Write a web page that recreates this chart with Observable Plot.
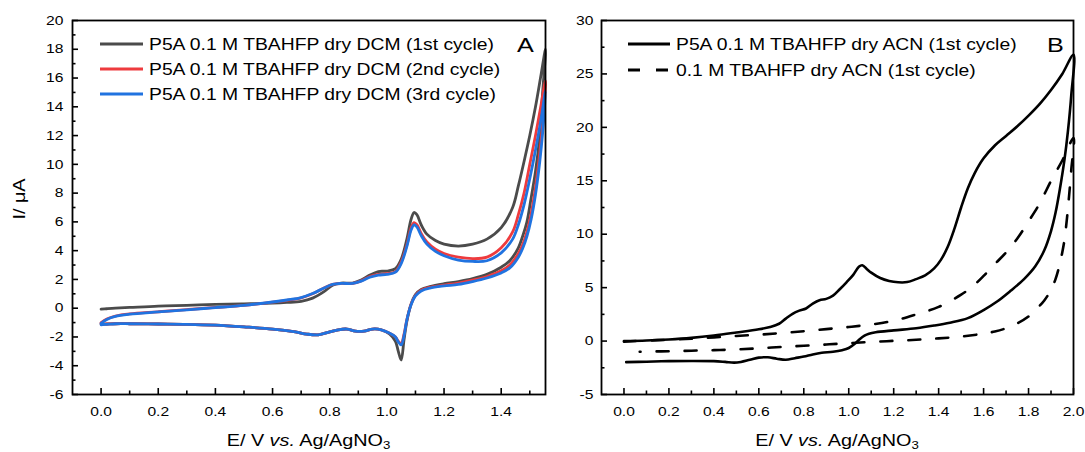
<!DOCTYPE html>
<html>
<head>
<meta charset="utf-8">
<script src="https://cdn.jsdelivr.net/npm/d3@7"></script>
<script src="https://cdn.jsdelivr.net/npm/@observablehq/plot@0.6"></script>
<style>
  html, body { margin: 0; padding: 0; background: #fff; }
  #wrap { position: relative; width: 1085px; height: 452px; overflow: hidden; background: #fff;
          font-family: "Liberation Sans", Arial, sans-serif; }
  #wrap svg { position: absolute; top: 0; }
</style>
</head>
<body>
<div id="wrap"></div>
<script>
// ---------------- Panel A data (DCM, three cycles) ----------------
const seriesA = ["P5A 0.1 M TBAHFP dry DCM (1st cycle)", "P5A 0.1 M TBAHFP dry DCM (2nd cycle)", "P5A 0.1 M TBAHFP dry DCM (3rd cycle)"];
const colorsA = ["#4b4b4b", "#ee3b3e", "#2073e0"];

const EA_fwd = [0.0, 0.02, 0.05, 0.1, 0.2, 0.3, 0.4, 0.5, 0.6, 0.65, 0.7, 0.74, 0.78, 0.81, 0.84, 0.88, 0.91, 0.94, 0.97, 1.0, 1.03, 1.05, 1.07, 1.085, 1.095, 1.105, 1.12, 1.14, 1.17, 1.2, 1.25, 1.3, 1.35, 1.4, 1.44, 1.46, 1.48, 1.5, 1.52, 1.54, 1.555];
const IA1_fwd = [-0.07, -0.04, 0.0, 0.05, 0.15, 0.2, 0.26, 0.3, 0.35, 0.4, 0.48, 0.7, 1.15, 1.6, 1.75, 1.75, 1.95, 2.3, 2.55, 2.58, 2.75, 3.4, 4.8, 6.2, 6.65, 6.5, 5.8, 5.15, 4.7, 4.45, 4.32, 4.45, 4.8, 5.6, 7.0, 8.5, 10.2, 12.0, 14.0, 16.3, 18.0];
const IA2_fwd = [-1.0, -0.75, -0.55, -0.4, -0.25, -0.1, 0.05, 0.2, 0.42, 0.55, 0.72, 1.0, 1.4, 1.65, 1.72, 1.72, 1.9, 2.2, 2.35, 2.4, 2.55, 3.2, 4.4, 5.6, 5.95, 5.8, 5.2, 4.6, 4.1, 3.8, 3.55, 3.45, 3.55, 4.2, 5.3, 6.5, 8.0, 10.0, 12.0, 14.2, 15.8];
const IA3_fwd = [-1.05, -0.78, -0.57, -0.42, -0.26, -0.11, 0.04, 0.2, 0.43, 0.57, 0.74, 1.02, 1.4, 1.65, 1.72, 1.72, 1.88, 2.15, 2.3, 2.35, 2.5, 3.1, 4.3, 5.45, 5.8, 5.65, 5.05, 4.45, 3.95, 3.65, 3.35, 3.25, 3.3, 3.85, 4.8, 5.8, 7.2, 9.0, 11.0, 13.2, 15.1];

const EA_rev = [1.555, 1.545, 1.535, 1.52, 1.505, 1.49, 1.475, 1.46, 1.43, 1.4, 1.35, 1.3, 1.25, 1.2, 1.15, 1.12, 1.1, 1.085, 1.07, 1.06, 1.05, 1.04, 1.03, 1.01, 0.98, 0.95, 0.92, 0.89, 0.86, 0.83, 0.8, 0.76, 0.72, 0.68, 0.6, 0.5, 0.4, 0.3, 0.2, 0.1, 0.05, 0.02, 0.0];
const IA1_rev = [18.0, 15.0, 12.0, 9.5, 7.7, 6.0, 5.0, 4.2, 3.3, 2.85, 2.35, 2.05, 1.85, 1.7, 1.5, 1.3, 0.95, 0.3, -0.9, -2.2, -3.6, -3.0, -2.3, -1.8, -1.5, -1.45, -1.6, -1.6, -1.45, -1.5, -1.65, -1.85, -1.8, -1.65, -1.45, -1.3, -1.18, -1.12, -1.1, -1.08, -1.08, -1.1, -1.1];
const IA2_rev = [15.8, 12.8, 10.8, 8.4, 6.6, 5.3, 4.4, 3.8, 3.0, 2.6, 2.2, 1.95, 1.75, 1.6, 1.45, 1.25, 0.9, 0.3, -0.8, -1.8, -2.45, -2.3, -2.0, -1.75, -1.5, -1.45, -1.6, -1.6, -1.45, -1.5, -1.65, -1.85, -1.8, -1.65, -1.45, -1.3, -1.18, -1.12, -1.1, -1.08, -1.08, -1.1, -1.1];
const IA3_rev = [15.1, 12.2, 10.2, 7.9, 6.2, 5.0, 4.15, 3.55, 2.8, 2.45, 2.1, 1.85, 1.65, 1.55, 1.4, 1.2, 0.85, 0.25, -0.8, -1.9, -2.55, -2.35, -2.0, -1.75, -1.5, -1.45, -1.6, -1.6, -1.45, -1.5, -1.65, -1.85, -1.8, -1.65, -1.45, -1.3, -1.18, -1.12, -1.1, -1.08, -1.08, -1.12, -1.15];

const xTicksA = [0.0, 0.2, 0.4, 0.6, 0.8, 1.0, 1.2, 1.4];
const xMinorA = [0.1, 0.3, 0.5, 0.7, 0.9, 1.1, 1.3, 1.5];
const yTicksA = [-6, -4, -2, 0, 2, 4, 6, 8, 10, 12, 14, 16, 18, 20];
const yMinorA = [-5, -3, -1, 1, 3, 5, 7, 9, 11, 13, 15, 17, 19];

// ---------------- Panel B data (ACN) ----------------
const seriesB = ["P5A 0.1 M TBAHFP dry ACN (1st cycle)", "0.1 M TBAHFP dry ACN (1st cycle)"];

const EB1_fwd = [0.0, 0.1, 0.2, 0.3, 0.4, 0.5, 0.6, 0.65, 0.69, 0.72, 0.75, 0.78, 0.81, 0.84, 0.87, 0.9, 0.93, 0.96, 0.99, 1.02, 1.045, 1.06, 1.08, 1.1, 1.14, 1.18, 1.22, 1.26, 1.3, 1.34, 1.38, 1.41, 1.44, 1.47, 1.5, 1.53, 1.56, 1.6, 1.65, 1.7, 1.75, 1.8, 1.85, 1.9, 1.95, 2.0];
const IB1_fwd = [0.0, 0.05, 0.15, 0.3, 0.52, 0.8, 1.1, 1.32, 1.62, 2.1, 2.55, 2.85, 3.05, 3.5, 3.82, 3.95, 4.25, 4.85, 5.5, 6.2, 6.95, 7.1, 6.75, 6.4, 5.9, 5.62, 5.5, 5.52, 5.8, 6.15, 6.8, 7.6, 8.8, 10.5, 12.5, 14.3, 15.7, 17.1, 18.3, 19.2, 20.1, 21.1, 22.2, 23.5, 25.0, 26.8];
const EB1_rev = [2.0, 1.99, 1.975, 1.96, 1.94, 1.92, 1.9, 1.87, 1.83, 1.78, 1.72, 1.66, 1.6, 1.53, 1.45, 1.38, 1.3, 1.2, 1.12, 1.09, 1.07, 1.05, 1.03, 1.0, 0.97, 0.93, 0.88, 0.84, 0.8, 0.76, 0.72, 0.68, 0.64, 0.6, 0.56, 0.52, 0.49, 0.45, 0.4, 0.3, 0.2, 0.1, 0.01];
const IB1_rev = [26.8, 23.0, 19.6, 17.0, 14.3, 12.0, 10.3, 8.5, 7.0, 5.8, 4.7, 3.7, 2.9, 2.15, 1.72, 1.45, 1.2, 1.0, 0.82, 0.68, 0.5, 0.2, -0.2, -0.65, -0.85, -1.0, -1.1, -1.25, -1.45, -1.6, -1.75, -1.65, -1.52, -1.55, -1.75, -1.95, -2.02, -1.95, -1.88, -1.86, -1.88, -1.93, -1.97];

const EB2_fwd = [0.0, 0.1, 0.2, 0.3, 0.4, 0.5, 0.6, 0.7, 0.8, 0.9, 1.0, 1.1, 1.2, 1.3, 1.4, 1.5, 1.55, 1.6, 1.65, 1.7, 1.75, 1.8, 1.85, 1.9, 1.95, 2.0];
const IB2_fwd = [-0.05, 0.05, 0.12, 0.22, 0.35, 0.48, 0.6, 0.75, 0.92, 1.12, 1.32, 1.55, 1.9, 2.5, 3.2, 4.35, 5.1, 6.1, 7.2, 8.3, 9.6, 11.2, 12.9, 15.0, 16.9, 19.0];
const EB2_rev = [2.0, 1.99, 1.98, 1.97, 1.96, 1.95, 1.94, 1.92, 1.9, 1.87, 1.84, 1.8, 1.75, 1.7, 1.65, 1.6, 1.5, 1.4, 1.3, 1.2, 1.1, 1.0, 0.9, 0.8, 0.7, 0.6, 0.5, 0.4, 0.3, 0.2, 0.1, 0.07];
const IB2_rev = [19.0, 16.0, 13.5, 11.3, 9.5, 8.3, 7.3, 5.8, 4.8, 3.8, 3.1, 2.3, 1.65, 1.2, 0.9, 0.7, 0.42, 0.25, 0.12, 0.02, -0.08, -0.2, -0.32, -0.44, -0.55, -0.68, -0.78, -0.85, -0.9, -0.95, -0.98, -1.0];

const xTicksB = [0.0, 0.2, 0.4, 0.6, 0.8, 1.0, 1.2, 1.4, 1.6, 1.8, 2.0];
const xMinorB = [0.1, 0.3, 0.5, 0.7, 0.9, 1.1, 1.3, 1.5, 1.7, 1.9];
const yTicksB = [-5, 0, 5, 10, 15, 20, 25, 30];
const yMinorB = [-2.5, 2.5, 7.5, 12.5, 17.5, 22.5, 27.5];

// ---------------- helpers ----------------
function loop(Ef, If, Er, Ir) {
  const pts = Ef.map((E, i) => ({E, I: If[i]})).concat(Er.map((E, i) => ({E, I: Ir[i]})));
  return pts.filter((p, i) => i === 0 || !(p.E === pts[i - 1].E && p.I === pts[i - 1].I));
}
const fmt1 = d3.format(".1f");
const FONT = '"Liberation Sans", Arial, sans-serif';

function ticksMarks(xMajor, xMinor, yMajor, yMinor, innerW, innerH) {
  const tk = {stroke: "#000", strokeWidth: 1.6};
  return [
    Plot.tickX(xMajor, {x: d => d, insetTop: innerH - 6, ...tk}),
    Plot.tickX(xMinor, {x: d => d, insetTop: innerH - 3.5, ...tk}),
    Plot.tickY(yMajor, {y: d => d, insetRight: innerW - 6, ...tk}),
    Plot.tickY(yMinor, {y: d => d, insetRight: innerW - 3.5, ...tk})
  ];
}

// ---------------- Panel A ----------------
const A = {w: 548, h: 452, ml: 72, mr: 3, mt: 20, mb: 58};
const dataA = [
  loop(EA_fwd, IA1_fwd, EA_rev, IA1_rev),
  loop(EA_fwd, IA2_fwd, EA_rev, IA2_rev),
  loop(EA_fwd, IA3_fwd, EA_rev, IA3_rev)
];
const plotA = Plot.plot({
  width: A.w, height: A.h,
  marginLeft: A.ml, marginRight: A.mr, marginTop: A.mt, marginBottom: A.mb,
  x: {domain: [-0.1, 1.555]},
  y: {domain: [-6, 20]},
  style: {fontFamily: FONT, fontSize: "13px", color: "#000", background: "transparent", maxWidth: "none"},
  marks: [
    ...dataA.map((d, k) => Plot.line(d, {x: "E", y: "I", stroke: colorsA[k], strokeWidth: 2.8, curve: "catmull-rom"})),
    ...ticksMarks(xTicksA, xMinorA, yTicksA, yMinorA, A.w - A.ml - A.mr, A.h - A.mt - A.mb),
    Plot.axisX(xTicksA, {tickSize: 0, tickPadding: 12, tickFormat: fmt1, label: null, fontSize: 13}),
    Plot.axisY(yTicksA, {tickSize: 0, tickPadding: 9, tickFormat: d => String(d), label: null, fontSize: 13}),
    Plot.frame({stroke: "#000", strokeWidth: 1.8})
  ]
});
plotA.style.left = "0px";

// ---------------- Panel B ----------------
const B = {x0: 548, w: 537, h: 452, ml: 53, mr: 12, mt: 20, mb: 58};
const solidB = loop(EB1_fwd, IB1_fwd, EB1_rev, IB1_rev);
const dashB = loop(EB2_fwd, IB2_fwd, EB2_rev, IB2_rev);
const plotB = Plot.plot({
  width: B.w, height: B.h,
  marginLeft: B.ml, marginRight: B.mr, marginTop: B.mt, marginBottom: B.mb,
  x: {domain: [-0.1, 2.0]},
  y: {domain: [-5, 30]},
  style: {fontFamily: FONT, fontSize: "13px", color: "#000", background: "transparent", maxWidth: "none"},
  marks: [
    Plot.line(dashB, {x: "E", y: "I", stroke: "#000", strokeWidth: 2.6, strokeDasharray: "12,16", curve: "catmull-rom"}),
    Plot.line(solidB, {x: "E", y: "I", stroke: "#000", strokeWidth: 2.6, curve: "catmull-rom"}),
    ...ticksMarks(xTicksB, xMinorB, yTicksB, yMinorB, B.w - B.ml - B.mr, B.h - B.mt - B.mb),
    Plot.axisX(xTicksB, {tickSize: 0, tickPadding: 12, tickFormat: fmt1, label: null, fontSize: 13}),
    Plot.axisY(yTicksB, {tickSize: 0, tickPadding: 8, tickFormat: d => String(d), label: null, fontSize: 13}),
    Plot.frame({stroke: "#000", strokeWidth: 1.8})
  ]
});
plotB.style.left = B.x0 + "px";

const wrap = document.getElementById("wrap");
wrap.appendChild(plotA);
wrap.appendChild(plotB);

// ---------------- annotations: legends, panel letters, axis titles ----------------
function legend(svg, x1, x2, rows) {
  const s = d3.select(svg);
  rows.forEach(r => {
    s.append("line").attr("x1", x1).attr("x2", x2).attr("y1", r.y).attr("y2", r.y)
      .attr("stroke", r.color).attr("stroke-width", 2.8).attr("stroke-dasharray", r.dash || null);
    s.append("text").attr("x", x2 + 6).attr("y", r.y + 6).attr("text-anchor", "start")
      .attr("fill", "#000").style("font-size", "16.1px").text(r.label);
  });
}
function xTitle(svg, cx) {
  const t = d3.select(svg).append("text").attr("x", cx).attr("y", 446)
    .attr("text-anchor", "middle").attr("fill", "#000").style("font-size", "16.5px");
  t.append("tspan").text("E/ V ");
  t.append("tspan").style("font-style", "italic").text("vs.");
  t.append("tspan").text(" Ag/AgNO");
  t.append("tspan").attr("dy", 3).style("font-size", "11px").text("3");
}
function letter(svg, x, y, s) {
  d3.select(svg).append("text").attr("x", x).attr("y", y).attr("text-anchor", "start")
    .attr("fill", "#000").style("font-size", "21px").text(s);
}

legend(plotA, 100, 143, seriesA.map((label, k) => ({label, color: colorsA[k], y: [44, 69, 94][k]})));
letter(plotA, 517, 52, "A");
xTitle(plotA, (A.ml + A.w - A.mr) / 2);
d3.select(plotA).append("text")
  .attr("transform", `translate(25,${(A.mt + A.h - A.mb) / 2 - 8}) rotate(-90)`)
  .attr("text-anchor", "middle").attr("fill", "#000").style("font-size", "16.5px").text("I/ μA");

legend(plotB, 628 - B.x0, 670 - B.x0, [
  {label: seriesB[0], color: "#000", y: 44},
  {label: seriesB[1], color: "#000", y: 70, dash: "12,16"}
]);
letter(plotB, 1047 - B.x0, 52, "B");
xTitle(plotB, (B.ml + B.w - B.mr) / 2);

// The reference's glyphs are horizontally wider than the font's natural width; widen every text.
const STRETCH = 1.2;
document.querySelectorAll("#wrap svg text").forEach(el => {
  const w = el.getComputedTextLength();
  if (w > 0) {
    el.setAttribute("textLength", (w * STRETCH).toFixed(1));
    el.setAttribute("lengthAdjust", "spacingAndGlyphs");
  }
});
</script>
</body>
</html>
